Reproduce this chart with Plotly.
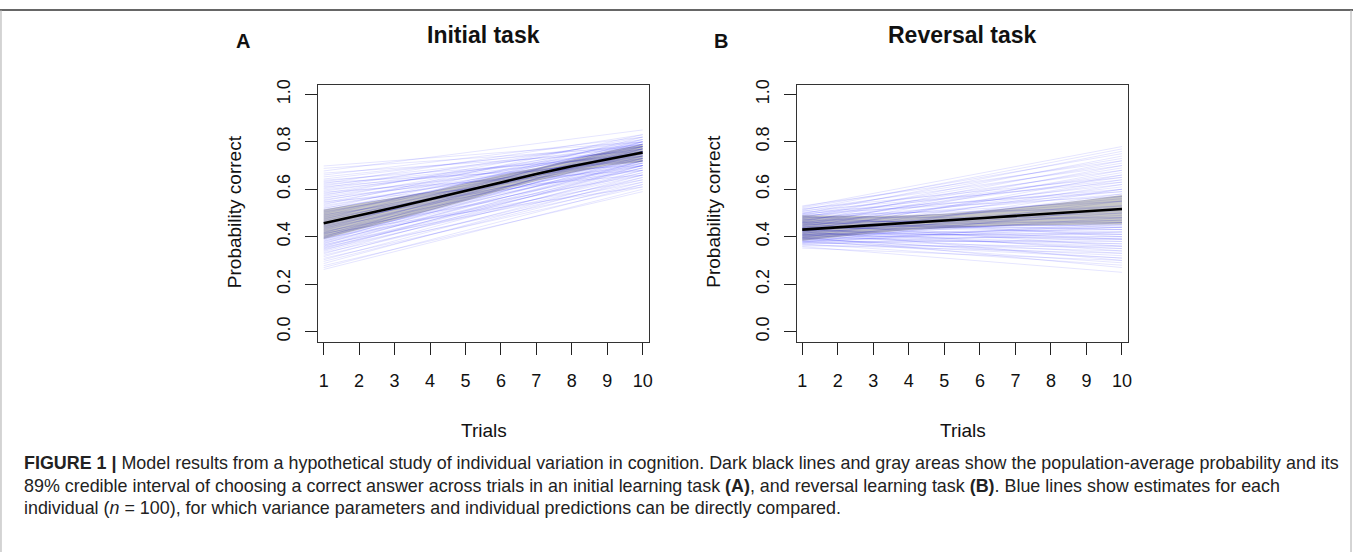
import plotly.graph_objects as go

W, H = 1357, 552

trials = [1, 2, 3, 4, 5, 6, 7, 8, 9, 10]
x_ticks = [1, 2, 3, 4, 5, 6, 7, 8, 9, 10]
y_ticks = [0.0, 0.2, 0.4, 0.6, 0.8, 1.0]
y_tick_labels = ["0.0", "0.2", "0.4", "0.6", "0.8", "1.0"]

# Panel A: population mean and 89% interval
A_mean = [0.457, 0.489, 0.523, 0.558, 0.594, 0.630, 0.664, 0.697, 0.727, 0.755]
A_lo = [0.390, 0.430, 0.470, 0.510, 0.550, 0.595, 0.635, 0.670, 0.700, 0.715]
A_hi = [0.515, 0.540, 0.565, 0.590, 0.625, 0.660, 0.690, 0.725, 0.760, 0.790]

# Panel A individuals: estimate at trial 1 and trial 10
A_start = [0.262, 0.270, 0.278, 0.287, 0.296,
           0.303, 0.309, 0.316, 0.322, 0.328, 0.333, 0.338, 0.342, 0.346, 0.349,
           0.352, 0.355, 0.358, 0.361, 0.364, 0.367, 0.370, 0.373, 0.376, 0.379,
           0.382, 0.385, 0.388, 0.391, 0.393, 0.395, 0.397, 0.399,
           0.402, 0.405, 0.409, 0.412, 0.416, 0.419, 0.423, 0.426, 0.430, 0.433,
           0.437, 0.440, 0.443, 0.446, 0.449,
           0.453, 0.457, 0.461, 0.465, 0.469, 0.473, 0.477, 0.481, 0.485, 0.489, 0.493, 0.497,
           0.502, 0.506, 0.510, 0.514, 0.518, 0.522, 0.526, 0.531, 0.535, 0.540, 0.544, 0.548,
           0.552, 0.556, 0.561, 0.565, 0.570, 0.574, 0.579, 0.583, 0.588, 0.592, 0.597,
           0.602, 0.606, 0.611, 0.615, 0.620, 0.624, 0.629, 0.633, 0.638, 0.643,
           0.652, 0.660, 0.668, 0.677, 0.688, 0.698, 0.415]
A_end = [0.60, 0.62, 0.59, 0.65, 0.63,
         0.66, 0.61, 0.68, 0.64, 0.70, 0.62, 0.67, 0.72, 0.65, 0.69,
         0.70, 0.66, 0.74, 0.68, 0.72, 0.63, 0.76, 0.69, 0.71, 0.78,
         0.67, 0.73, 0.75, 0.70, 0.64, 0.77, 0.72, 0.80,
         0.74, 0.69, 0.76, 0.71, 0.79, 0.73, 0.66, 0.77, 0.75, 0.81,
         0.70, 0.78, 0.72, 0.76, 0.80,
         0.73, 0.77, 0.70, 0.79, 0.75, 0.82, 0.71, 0.76, 0.74, 0.80, 0.68, 0.78,
         0.76, 0.72, 0.79, 0.74, 0.81, 0.70, 0.77, 0.75, 0.83, 0.73, 0.78, 0.66,
         0.78, 0.74, 0.80, 0.71, 0.76, 0.82, 0.73, 0.79, 0.68, 0.77, 0.75,
         0.77, 0.81, 0.72, 0.79, 0.75, 0.83, 0.70, 0.78, 0.74, 0.80,
         0.79, 0.82, 0.76, 0.85, 0.78, 0.80, 0.61]

# Panel B: population mean and 89% interval
B_mean = [0.430, 0.439, 0.449, 0.459, 0.468, 0.478, 0.488, 0.498, 0.508, 0.517]
B_lo = [0.383, 0.400, 0.415, 0.428, 0.437, 0.443, 0.447, 0.450, 0.452, 0.453]
B_hi = [0.490, 0.487, 0.487, 0.490, 0.497, 0.508, 0.522, 0.538, 0.556, 0.576]

# Panel B individuals: estimate at trial 1 and trial 10
B_start = [0.352, 0.358, 0.361, 0.365, 0.368, 0.370, 0.372, 0.374, 0.376, 0.377, 0.379, 0.380,
           0.381, 0.383, 0.385, 0.386, 0.388, 0.390, 0.391, 0.393, 0.394, 0.396,
           0.397, 0.399, 0.400, 0.402, 0.403, 0.405, 0.406, 0.407, 0.408, 0.409,
           0.410, 0.412, 0.413, 0.415, 0.416, 0.418, 0.419, 0.421, 0.422, 0.424, 0.425,
           0.427, 0.428, 0.430, 0.431, 0.433, 0.434, 0.436, 0.437, 0.438, 0.439, 0.440,
           0.442, 0.444, 0.445, 0.447, 0.448, 0.450, 0.452, 0.453, 0.455, 0.457, 0.458,
           0.460, 0.462, 0.463, 0.465, 0.466, 0.468, 0.470,
           0.472, 0.474, 0.476, 0.478, 0.480, 0.482, 0.484, 0.486, 0.488, 0.490, 0.492,
           0.494, 0.496, 0.498,
           0.500, 0.503, 0.506, 0.509, 0.512, 0.515, 0.518, 0.522, 0.526, 0.530,
           0.395, 0.426, 0.459, 0.435]
B_end = [0.30, 0.25, 0.36, 0.33, 0.42, 0.28, 0.39, 0.46, 0.34, 0.52, 0.31, 0.44,
         0.38, 0.29, 0.45, 0.35, 0.55, 0.40, 0.32, 0.48, 0.37, 0.60,
         0.42, 0.27, 0.50, 0.36, 0.44, 0.58, 0.39, 0.33, 0.47, 0.41,
         0.43, 0.62, 0.37, 0.51, 0.40, 0.66, 0.35, 0.46, 0.57, 0.30, 0.49,
         0.41, 0.64, 0.38, 0.53, 0.44, 0.60, 0.34, 0.47, 0.68, 0.42, 0.55,
         0.45, 0.63, 0.39, 0.56, 0.70, 0.43, 0.50, 0.61, 0.36, 0.67, 0.48,
         0.58, 0.41, 0.72, 0.53, 0.46, 0.65, 0.59,
         0.62, 0.44, 0.69, 0.55, 0.74, 0.48, 0.66, 0.40, 0.60, 0.71, 0.52,
         0.64, 0.76, 0.57,
         0.68, 0.59, 0.73, 0.63, 0.77, 0.70, 0.65, 0.75, 0.78, 0.72,
         0.31, 0.39, 0.43, 0.45]

panel_titles = ["Initial task", "Reversal task"]
panel_letters = ["A", "B"]
x_title = "Trials"
y_title = "Probability correct"

caption_lines = [
    "<b>FIGURE 1 |</b> Model results from a hypothetical study of individual variation in cognition. "
    "Dark black lines and gray areas show the population-average probability and its",
    "89% credible interval of choosing a correct answer across trials in an initial learning task "
    "<b>(A)</b>, and reversal learning task <b>(B)</b>. Blue lines show estimates for each",
    "individual (<i>n</i> = 100), for which variance parameters and individual predictions can be directly compared.",
]

FONT = "Liberation Sans, Arial, Helvetica, sans-serif"
BLUE = "rgba(0,0,255,0.10)"
BAND = "rgba(0,0,0,0.22)"
DY = -4  # vertical placement correction


def px(x):
    return x / W


def py(y):
    return 1 - (y + DY) / H


fig = go.Figure()

panels = [
    ("x", "y", A_start, A_end, A_lo, A_hi, A_mean),
    ("x2", "y2", B_start, B_end, B_lo, B_hi, B_mean),
]
for xa, ya, st, en, lo, hi, mean in panels:
    for s, e in zip(st, en):
        fig.add_trace(go.Scatter(x=[trials[0], trials[-1]], y=[s, e], mode="lines",
                                 line=dict(color=BLUE, width=1), xaxis=xa, yaxis=ya,
                                 hoverinfo="skip", showlegend=False))
    fig.add_trace(go.Scatter(x=trials + trials[::-1], y=hi + lo[::-1], mode="lines",
                             fill="toself", fillcolor=BAND, line=dict(width=0),
                             xaxis=xa, yaxis=ya, hoverinfo="skip", showlegend=False))
    fig.add_trace(go.Scatter(x=trials, y=mean, mode="lines",
                             line=dict(color="black", width=2.6), xaxis=xa, yaxis=ya,
                             showlegend=False))

dom_x = [(319.3, 651.0), (799.3, 1131.7)]
dom_y = (84.3, 343.3)

axis_common = dict(showline=True, mirror=True, linecolor="#333333", linewidth=1.4,
                   ticks="outside", ticklen=12, tickwidth=1.4, tickcolor="#222222",
                   showgrid=False, zeroline=False,
                   tickfont=dict(family=FONT, size=18, color="#111111"))

layout = dict(width=W, height=H, margin=dict(l=0, r=0, t=0, b=0),
              paper_bgcolor="white", plot_bgcolor="white", showlegend=False)
for i, (x0, x1) in enumerate(dom_x):
    sfx = "" if i == 0 else "2"
    layout["xaxis" + sfx] = dict(domain=[px(x0), px(x1)], range=[0.85, 10.18],
                                 tickmode="array", tickvals=x_ticks,
                                 ticktext=[str(v) for v in x_ticks],
                                 ticklabelstandoff=11,
                                 anchor="y" + sfx, **axis_common)
    layout["yaxis" + sfx] = dict(domain=[py(dom_y[1]), py(dom_y[0])], range=[-0.042, 1.0375],
                                 tickmode="array", tickvals=y_ticks, ticktext=y_tick_labels,
                                 tickangle=-90, ticklabelstandoff=8,
                                 anchor="x" + sfx, **axis_common)
fig.update_layout(**layout)

ann = []
for i, (x0, x1) in enumerate(dom_x):
    cx = (x0 + x1) / 2
    ann.append(dict(x=px(cx), y=py(33), xref="paper", yref="paper", text="<b>%s</b>" % panel_titles[i],
                    showarrow=False, font=dict(family=FONT, size=23, color="#111111"),
                    xanchor="center", yanchor="middle"))
    ann.append(dict(x=px(x0 - 76), y=py(39), xref="paper", yref="paper", text="<b>%s</b>" % panel_letters[i],
                    showarrow=False, font=dict(family=FONT, size=20, color="#111111"),
                    xanchor="center", yanchor="middle"))
    ann.append(dict(x=px(cx), y=py(433), xref="paper", yref="paper", text=x_title,
                    showarrow=False, font=dict(family=FONT, size=19, color="#111111"),
                    xanchor="center", yanchor="middle"))
    ann.append(dict(x=px(x0 - 84), y=py((dom_y[0] + dom_y[1]) / 2 - 2), xref="paper", yref="paper",
                    text=y_title, textangle=-90,
                    showarrow=False, font=dict(family=FONT, size=19, color="#111111"),
                    xanchor="center", yanchor="middle"))

cap_y = [466, 489, 512]
for t, yy in zip(caption_lines, cap_y):
    ann.append(dict(x=px(22), y=py(yy), xref="paper", yref="paper", text=t,
                    showarrow=False, font=dict(family=FONT, size=17.9, color="#222222"),
                    xanchor="left", yanchor="middle", align="left"))
fig.update_layout(annotations=ann)

fig.add_shape(type="line", xref="paper", yref="paper", x0=px(0), x1=px(W), y0=py(8), y1=py(8),
              line=dict(color="#666666", width=2))
fig.add_shape(type="line", xref="paper", yref="paper", x0=px(1), x1=px(1), y0=py(8), y1=py(H + 10),
              line=dict(color="#aaaaaa", width=1))
fig.add_shape(type="line", xref="paper", yref="paper", x0=px(W - 2), x1=px(W - 2), y0=py(8), y1=py(H + 10),
              line=dict(color="#aaaaaa", width=1))

fig.write_html("out.html", config={"displayModeBar": False},
               post_script="document.body.style.margin='0px';")
